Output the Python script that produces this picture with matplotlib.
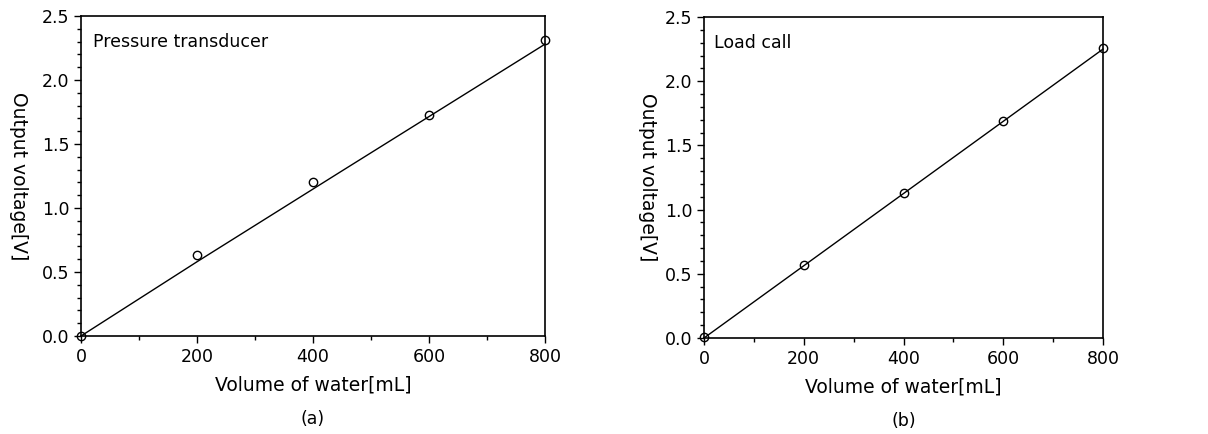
#!/usr/bin/env python3
"""
Calibration plots: pressure transducer (a) and load cell (b)
"""

import matplotlib
matplotlib.use('Agg')
import matplotlib.pyplot as plt
from matplotlib.ticker import MultipleLocator

# ============================================================================
# DATA
# ============================================================================
volume = [0, 200, 400, 600, 800]

pressure_v = [0.0, 0.63, 1.20, 1.73, 2.31]
pressure_fit_x = [0, 200, 450, 800]
pressure_fit_y = [0.0, 0.58, 1.29, 2.28]

load_v = [0.01, 0.57, 1.13, 1.69, 2.26]
load_fit_x = [0, 800]
load_fit_y = [0.0, 2.25]

panel_titles = ['Pressure transducer', 'Load call']
panel_tags = ['(a)', '(b)']
# ============================================================================

plt.rcParams['font.family'] = ['DejaVu Sans']
FS = 12.5

fig = plt.figure(figsize=(12.08, 4.34), dpi=100)

axes_pos = [
    [81 / 1208, 1 - 336 / 434, 464 / 1208, 320 / 434],
    [704 / 1208, 1 - 338 / 434, 399 / 1208, 321 / 434],
]
ylabel_x = [-63 / 464, -56 / 399]
series = [
    (pressure_v, pressure_fit_x, pressure_fit_y),
    (load_v, load_fit_x, load_fit_y),
]

for pos, lx, (yv, fx, fy), title, tag in zip(axes_pos, ylabel_x, series,
                                             panel_titles, panel_tags):
    ax = fig.add_axes(pos)
    ax.plot(fx, fy, color='black', linewidth=1.0, clip_on=False)
    ax.plot(volume, yv, linestyle='none', marker='o', markersize=6,
            markerfacecolor='none', markeredgecolor='black',
            markeredgewidth=1.0, clip_on=False)

    ax.set_xlim(0, 800)
    ax.set_ylim(0, 2.5)
    ax.xaxis.set_major_locator(MultipleLocator(200))
    ax.xaxis.set_minor_locator(MultipleLocator(100))
    ax.yaxis.set_major_locator(MultipleLocator(0.5))
    ax.yaxis.set_minor_locator(MultipleLocator(0.1))
    ax.yaxis.set_major_formatter(plt.FormatStrFormatter('%.1f'))
    ax.tick_params(which='both', direction='out', top=False, right=False,
                   labelsize=FS, width=1.0)
    ax.tick_params(which='major', length=5)
    ax.tick_params(which='minor', length=3)
    for sp in ax.spines.values():
        sp.set_linewidth(1.2)

    ax.set_xlabel('Volume of water[mL]', fontsize=FS + 1, labelpad=7)
    ax.set_ylabel('Output voltage[V]', fontsize=FS + 1, rotation=270,
                  va='center', ha='center')
    ax.yaxis.set_label_coords(lx, 0.5)
    ax.text(0.025, 0.92, title, transform=ax.transAxes, fontsize=FS,
            ha='left', va='center')
    ax.text(0.5, -0.26, tag, transform=ax.transAxes, fontsize=FS,
            ha='center', va='center')

plt.savefig('out.png', dpi=100)
plt.close()
